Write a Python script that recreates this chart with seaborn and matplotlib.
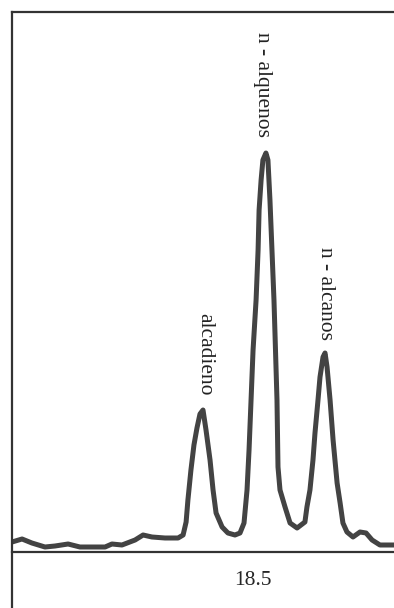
import matplotlib
matplotlib.use("Agg")
import matplotlib.pyplot as plt
import seaborn as sns
import pandas as pd

# retention time (min) and detector signal
time = [17.300, 17.350, 17.399, 17.464, 17.514, 17.579, 17.638, 17.713, 17.763,
        17.797, 17.847, 17.912, 17.952, 17.996, 18.061, 18.126, 18.151, 18.166,
        18.175, 18.190, 18.205, 18.220, 18.235, 18.250, 18.265, 18.285, 18.300,
        18.315, 18.345, 18.374, 18.409, 18.434, 18.454, 18.469, 18.479, 18.489,
        18.499, 18.514, 18.524, 18.529, 18.539, 18.548, 18.563, 18.573, 18.583,
        18.593, 18.603, 18.608, 18.618, 18.623, 18.633, 18.658, 18.683, 18.718,
        18.757, 18.767, 18.782, 18.797, 18.807, 18.822, 18.832, 18.847, 18.857,
        18.867, 18.882, 18.897, 18.917, 18.932, 18.946, 18.966, 18.996, 19.031,
        19.061, 19.091, 19.130, 19.200]
signal = [10, 13, 9, 5, 6, 8, 5, 5, 5,
          8, 7, 12, 17, 15, 14, 14, 17, 30,
          52, 82, 107, 124, 138, 142, 122, 92, 62,
          39, 25, 19, 17, 19, 29, 62, 102, 152,
          202, 252, 302, 342, 372, 392, 399, 392, 352,
          302, 252, 219, 152, 85, 62, 45, 29, 24,
          30, 45, 62, 92, 119, 152, 175, 195, 199,
          185, 152, 112, 69, 49, 29, 20, 15, 20,
          19, 12, 7, 7]

peak_names = ["alcadieno", "n - alquenos", "n - alcanos"]
peak_label_x = [18.260, 18.548, 18.857]
peak_label_y = [239, 520, 305]

tick_pos = [18.5]
tick_labels = ["18.5"]

df = pd.DataFrame({"time": time, "signal": signal})

sns.set_style("white")
plt.rcParams["font.family"] = ["Liberation Serif", "DejaVu Serif"]

fig = plt.figure(figsize=(3.94, 6.08), dpi=100)
ax = fig.add_axes([12 / 394, 0, 382 / 394, 596 / 608])

sns.lineplot(data=df, x="time", y="signal", ax=ax, color="#2e2e2e",
             linewidth=3.6, alpha=0.9)

ax.set_xlim(17.3, 19.2)
ax.set_ylim(-56, 540)

for s in ["left", "top", "bottom"]:
    ax.spines[s].set_color("#333333")
    ax.spines[s].set_linewidth(1.6)
ax.spines["right"].set_visible(False)
ax.spines["bottom"].set_position(("data", 0))

ax.set_xticks(tick_pos)
ax.set_xticklabels(tick_labels, fontsize=15.5)
ax.tick_params(axis="x", length=0, pad=14)
ax.set_yticks([])
ax.set_xlabel("")
ax.set_ylabel("")

for name, xx, yy in zip(peak_names, peak_label_x, peak_label_y):
    ax.text(xx, yy, name, rotation=-90, ha="center", va="top", fontsize=15.5,
            color="#222222")

fig.savefig("out.png", dpi=100)
